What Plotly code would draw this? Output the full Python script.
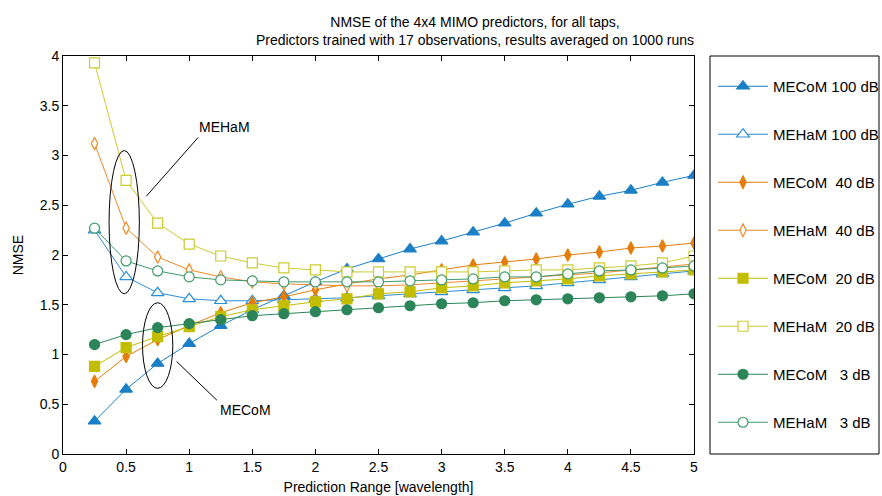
import plotly.graph_objects as go

x = [0.25, 0.5, 0.75, 1.0, 1.25, 1.5, 1.75, 2.0, 2.25, 2.5,
     2.75, 3.0, 3.25, 3.5, 3.75, 4.0, 4.25, 4.5, 4.75, 5.0]

mecom100 = [0.33, 0.65, 0.91, 1.11, 1.29, 1.45, 1.59, 1.73, 1.86, 1.96,
            2.06, 2.14, 2.23, 2.32, 2.42, 2.51, 2.59, 2.65, 2.73, 2.80]
meham100 = [2.25, 1.78, 1.62, 1.56, 1.54, 1.54, 1.55, 1.56, 1.57, 1.59,
            1.61, 1.63, 1.65, 1.67, 1.69, 1.72, 1.75, 1.78, 1.81, 1.84]
mecom40 = [0.73, 0.98, 1.15, 1.29, 1.42, 1.52, 1.58, 1.65, 1.71, 1.76,
           1.80, 1.85, 1.90, 1.93, 1.96, 2.00, 2.03, 2.07, 2.09, 2.12]
meham40 = [3.12, 2.27, 1.98, 1.85, 1.78, 1.73, 1.71, 1.70, 1.69, 1.69,
           1.70, 1.72, 1.74, 1.76, 1.78, 1.80, 1.82, 1.85, 1.88, 1.91]
mecom20 = [0.88, 1.07, 1.18, 1.28, 1.38, 1.45, 1.49, 1.53, 1.56, 1.61,
           1.63, 1.67, 1.69, 1.72, 1.74, 1.76, 1.79, 1.81, 1.83, 1.85]
meham20 = [3.93, 2.75, 2.32, 2.11, 1.99, 1.92, 1.87, 1.85, 1.83, 1.83,
           1.83, 1.83, 1.83, 1.84, 1.85, 1.85, 1.87, 1.89, 1.92, 1.99]
mecom3 = [1.10, 1.20, 1.27, 1.31, 1.35, 1.39, 1.41, 1.43, 1.45, 1.47,
          1.49, 1.51, 1.52, 1.54, 1.55, 1.56, 1.57, 1.58, 1.59, 1.61]
meham3 = [2.27, 1.94, 1.84, 1.78, 1.75, 1.74, 1.73, 1.73, 1.73, 1.73,
          1.74, 1.75, 1.76, 1.78, 1.78, 1.81, 1.84, 1.85, 1.87, 1.89]

NB = "\u00a0"
series = [
    ("MECoM 100 dB", mecom100, "#1a7fc6", "triangle-up", True, 11),
    ("MEHaM 100 dB", meham100, "#2a8fd6", "triangle-up", False, 11),
    ("MECoM" + NB * 2 + "40 dB", mecom40, "#e57d08", "diamond-tall", True, 9),
    ("MEHaM" + NB * 2 + "40 dB", meham40, "#ef8a2a", "diamond-tall", False, 9),
    ("MECoM" + NB * 2 + "20 dB", mecom20, "#c3bd00", "square", True, 10),
    ("MEHaM" + NB * 2 + "20 dB", meham20, "#cccb30", "square", False, 10),
    ("MECoM" + NB * 3 + "3 dB", mecom3, "#2b8558", "circle", True, 10),
    ("MEHaM" + NB * 3 + "3 dB", meham3, "#3f9a6c", "circle", False, 10),
]

xticks = [0, 0.5, 1, 1.5, 2, 2.5, 3, 3.5, 4, 4.5, 5]
yticks = [0, 0.5, 1, 1.5, 2, 2.5, 3, 3.5, 4]

fig = go.Figure()
for i, (name, ys, col, sym, filled, sz) in enumerate(series):
    fig.add_trace(go.Scatter(
        x=x, y=ys, name=name, mode="lines+markers",
        legendgroup="g%d" % i,
        line=dict(color=col, width=1),
        marker=dict(symbol=sym, size=sz,
                    color=col if filled else "white",
                    line=dict(color=col, width=1.2)),
    ))

# annotation ellipses and pointers
fig.add_shape(type="circle", xref="x", yref="y", x0=0.365, x1=0.605, y0=1.61, y1=3.05,
              line=dict(color="black", width=1))
fig.add_shape(type="circle", xref="x", yref="y", x0=0.63, x1=0.87, y0=0.66, y1=1.52,
              line=dict(color="black", width=1))
fig.add_shape(type="line", xref="x", yref="y", x0=0.66, y0=2.59, x1=1.07, y1=3.18,
              line=dict(color="black", width=1))
fig.add_shape(type="line", xref="x", yref="y", x0=0.9, y0=0.93, x1=1.22, y1=0.54,
              line=dict(color="black", width=1))
fig.add_annotation(x=1.28, y=3.29, xref="x", yref="y", text="MEHaM", showarrow=False,
                   font=dict(size=14, color="black"))
fig.add_annotation(x=1.45, y=0.44, xref="x", yref="y", text="MECoM", showarrow=False,
                   font=dict(size=14, color="black"))

# legend box
fig.add_shape(type="rect", xref="paper", yref="paper",
              x0=(710 - 63) / 631, x1=(879 - 63) / 631, y0=0, y1=1,
              line=dict(color="black", width=1))

fig.update_layout(
    width=882, height=496,
    margin=dict(l=63, r=188, t=56, b=42),
    paper_bgcolor="white", plot_bgcolor="white",
    font=dict(family="Arial", size=14, color="black"),
    title=dict(
        text="NMSE of the 4x4 MIMO predictors, for all taps,<br>"
             "Predictors trained with 17 observations, results averaged on 1000 runs",
        x=475 / 882, xref="container", xanchor="center",
        y=1 - 27 / 496, yref="container", yanchor="middle",
        font=dict(size=14, color="black"),
    ),
    legend=dict(
        xref="container", yref="paper",
        x=713 / 882, xanchor="left", y=1 - 14 / 398, yanchor="top",
        bgcolor="rgba(0,0,0,0)", borderwidth=0, itemwidth=50,
        tracegroupgap=25.5, font=dict(size=15, color="black"),
    ),
    showlegend=True,
)
fig.update_xaxes(
    range=[0, 5], tickvals=xticks, ticktext=[f"{v:g}" for v in xticks],
    ticks="inside", ticklen=5, tickcolor="black", automargin=False,
    showline=True, linecolor="black", linewidth=1, mirror="allticks",
    showgrid=False, zeroline=False,
    title=dict(text="Prediction Range [wavelength]", standoff=8, font=dict(size=14)),
)
fig.update_yaxes(
    range=[0, 4], tickvals=yticks, ticktext=[f"{v:g}" for v in yticks],
    ticks="inside", ticklen=5, tickcolor="black", automargin=False,
    showline=True, linecolor="black", linewidth=1, mirror="allticks",
    showgrid=False, zeroline=False,
    title=dict(text="NMSE", standoff=12, font=dict(size=14)),
)

fig.write_html("out.html", config={"displayModeBar": False},
               post_script="document.body.style.margin='0px';")
